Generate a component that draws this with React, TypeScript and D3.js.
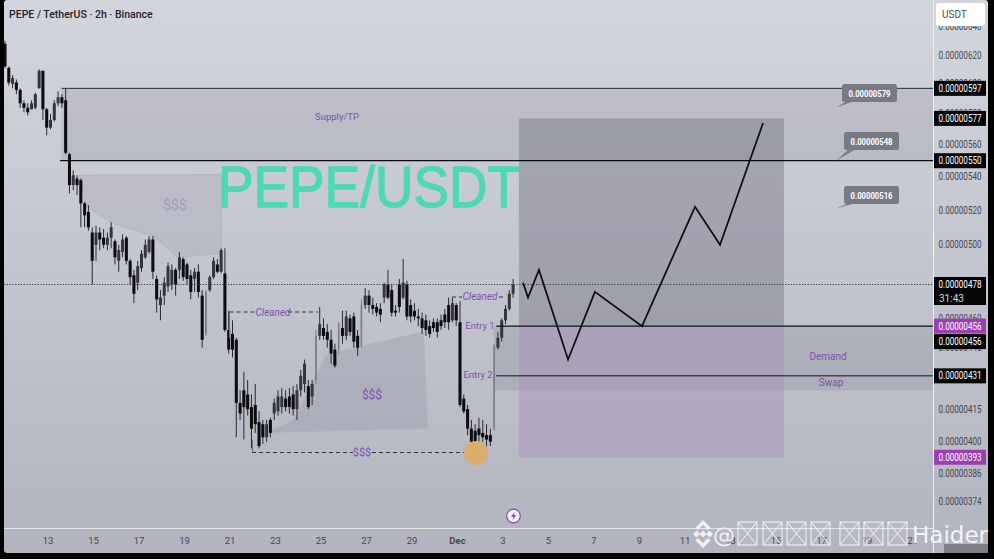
import React from "react";
import * as d3 from "d3";

// Prices in units of 0.00000001 USDT
const candleOpen = [628,611,600,601,596,587,584,583,584,597,609,583,571,576,587,591,589,554,535,539,538,524,519,507,500,507,504,500,504,502,491,496,504,491,483,479,487,493,496,503,481,467,472,477,478,486,486,492,489,483,481,485,472,452,475,482,489,485,484,454,452,449,418,424,422,416,417,409,408,402,410,413,414,416,420,421,422,415,424,427,426,421,429,451,455,453,449,444,444,455,451,460,461,451,446,467,472,467,466,465,471,478,475,464,478,471,478,467,464,461,460,459,456,458,458,459,462,467,459,467,458,420,415,406,405,406,404,403,403,406,445,450,459,465,473];
const candleClose = [612,601,604,596,587,584,581,587,593,609,583,571,576,587,591,587,555,535,541,535,524,517,510,491,507,503,500,504,510,493,497,503,491,482,473,488,495,500,503,485,470,471,479,488,486,478,493,482,481,474,485,474,449,474,482,491,485,497,454,444,444,418,413,416,415,406,408,398,402,408,404,418,421,421,416,416,415,424,431,437,416,427,451,457,451,449,442,436,457,451,461,453,448,445,467,472,467,465,463,462,478,471,463,463,466,479,461,461,461,460,455,454,452,455,453,456,458,458,468,459,417,414,406,400,396,403,402,401,400,446,450,459,465,473,478];
const candleHigh = [630,612,606,603,597,589,587,589,594,610,609,584,580,589,595,593,597,555,544,541,539,525,523,510,511,510,509,507,513,503,500,506,505,492,486,491,497,503,505,505,483,475,482,490,489,487,496,493,490,486,487,489,475,475,483,493,492,498,498,464,459,450,424,433,429,422,427,414,410,410,411,420,424,425,424,425,426,427,434,439,429,429,454,466,460,457,454,447,458,464,464,462,463,454,470,476,475,471,468,468,479,486,478,467,481,492,480,470,468,465,463,462,459,460,460,462,465,471,471,468,469,422,417,410,408,411,410,408,406,447,453,460,467,475,481];
const candleLow = [611,599,597,593,584,581,579,583,583,597,576,566,570,575,585,584,554,530,532,529,510,510,508,478,491,497,498,497,498,489,485,493,489,478,468,475,485,492,495,481,463,459,467,474,475,472,481,480,478,470,474,471,445,451,474,481,484,484,453,442,440,402,410,401,412,397,404,397,399,400,402,410,412,413,414,413,412,410,421,423,415,417,427,449,449,445,437,435,442,447,449,451,445,441,445,465,463,462,461,458,468,470,461,461,463,470,459,458,459,456,452,451,450,453,450,454,455,454,458,456,416,413,403,395,393,400,400,398,398,405,444,448,457,464,471];

const projectionDays = [33.88,34.1,34.58,35.86,37.04,39.11,41.44,42.54,44.43];
const projectionPrices = [479,471,486,439,474,456,522,500,574];

const plainTicks = [640,620,600,580,560,540,520,500,460,445,415,400,386,374];
const blackTags = [597,577,550,431];
const purpleTags = [456,393];
const callouts = [579,548,516];
const calloutTipPrices = [584,550,521];
const oddDaysNov = [13,15,17,19,21,23,25,27,29];
const dayLabelsDec = [3,5,7,9,11,13,15,17,19,21];
const DEC_OFFSET = 30;

const poly1Days = [14.37,20.65,20.6,18.7,17.6,15.75,14.7];
const poly1Prices = [541,541.5,495,493,505,513,522];
const poly2Days = [22.56,23.8,25.2,26.1,29.5,29.7];
const poly2Prices = [404,410,441,444,453,406];

const fmt = (v: number) => "0.00000" + v;

const x = d3.scaleLinear().domain([13, 33]).range([48, 503]);
const y = d3.scaleLog().domain([620, 374]).range([55, 501]);
const FIRST_DAY = 11.11;
const dayOf = (i: number) => FIRST_DAY + i / 6;
const AX = 933.5;
const purple = "#7b52ad";
const tick = "#44474f";
const mono = "Roboto, 'Liberation Sans', sans-serif";

function Price({ yy, v, fill }: { yy: number; v: number; fill: string }) {
  return (
    <text x={960} y={yy} textAnchor="middle" fontSize={10} fill={fill} textLength={43} lengthAdjust="spacingAndGlyphs">{fmt(v)}</text>
  );
}

function Tofu({ left }: { left: number }) {
  return (
    <g stroke="#fff" strokeWidth={1} fill="rgba(255,255,255,0.08)" opacity={0.9}>
      <rect x={left} y={522} width={19} height={23} />
      <path d={`M${left},522L${left + 19},545M${left + 19},522L${left},545`} />
    </g>
  );
}

export default function App() {
  const line = d3.line<number>().x((_, i) => x(projectionDays[i])).y((_, i) => y(projectionPrices[i]));
  const polyPath = (ds: number[], ps: number[]) =>
    d3.line<number>().x((d) => x(d)).y((_, i) => y(ps[i]))(ds) + "Z";
  const boxL = x(33.7);
  const boxR = x(45.35);
  return (
    <svg width={994} height={559} style={{ position: "fixed", left: 0, top: 0 }} fontFamily={mono}>
      <defs>
        <linearGradient id="bg" x1="0" y1="0" x2="0" y2="1">
          <stop offset="0" stopColor="#d3d5dc" />
          <stop offset="0.5" stopColor="#c3c5ce" />
          <stop offset="1" stopColor="#b2b4be" />
        </linearGradient>
        <filter id="soft"><feGaussianBlur stdDeviation="0.35" /></filter>
        <filter id="soft2"><feGaussianBlur stdDeviation="0.6" /></filter>
      </defs>
      <rect width={994} height={559} fill="#000" />
      <rect x={4} y={0} width={984} height={553} fill="url(#bg)" rx={3} />

      {/* zones */}
      <rect x={x(13.6)} y={y(597)} width={AX - x(13.6)} height={y(550) - y(597)} fill="#7b7e8c" opacity={0.2} />
      <rect x={x(32.6)} y={y(456)} width={AX - x(32.6)} height={y(424) - y(456)} fill="#7b7e8c" opacity={0.25} />
      <path d={polyPath(poly1Days, poly1Prices)} fill="#8a8d9a" fillOpacity={0.2} stroke="#b3b5bf" strokeWidth={1} />
      <path d={polyPath(poly2Days, poly2Prices)} fill="#8a8d9a" fillOpacity={0.28} stroke="#b3b5bf" strokeWidth={1} />
      <rect x={boxL} y={y(577)} width={boxR - boxL} height={y(456) - y(577)} fill="#6f717c" opacity={0.42} />
      <rect x={boxL} y={y(456)} width={boxR - boxL} height={y(393) - y(456)} fill="#a892bb" opacity={0.5} />

      {/* candles */}
      <g filter="url(#soft)">
        {candleOpen.map((o, i) => {
          const c = candleClose[i];
          const px = x(dayOf(i));
          const up = c > o;
          const tall = up && y(o) - y(c) > 25;
          const col = tall ? "#7c7e87" : up ? "#34363d" : "#08080b";
          return (
            <g key={i}>
              <line x1={px} x2={px} y1={y(candleHigh[i])} y2={y(candleLow[i])} stroke={tall ? "#7c7e87" : "#2a2b31"} strokeWidth={1} />
              <rect x={px - (tall ? 0.8 : 1.5)} width={tall ? 1.6 : 3} y={y(Math.max(o, c))} height={Math.max(1, Math.abs(y(o) - y(c)))} fill={col} />
            </g>
          );
        })}
      </g>

      {/* title */}
      <text x={218} y={207} fontFamily="'Liberation Sans', Arial, sans-serif" fontSize={58} fill="#4fd8b4" stroke="#4fd8b4" strokeWidth={1.3} textLength={302} lengthAdjust="spacingAndGlyphs">PEPE/USDT</text>

      {/* horizontal levels */}
      <line x1={x(13.6)} x2={AX} y1={y(597)} y2={y(597)} stroke="#2b2c33" strokeWidth={1} />
      <line x1={60} x2={AX} y1={y(550)} y2={y(550)} stroke="#0c0c10" strokeWidth={1.2} />
      <line x1={x(32.7)} x2={AX} y1={y(456)} y2={y(456)} stroke="#111" strokeWidth={1.1} />
      <line x1={x(32.7)} x2={AX} y1={y(431)} y2={y(431)} stroke="#111" strokeWidth={1} />
      <line x1={4} x2={AX} y1={y(478)} y2={y(478)} stroke="#33353c" strokeWidth={1} strokeDasharray="1.2 1.6" />

      {/* projection */}
      <path d={line(projectionDays) as string} fill="none" stroke="#0b0b0f" strokeWidth={1.7} strokeLinejoin="miter" filter="url(#soft)" />

      {/* dashed annotations */}
      <g stroke="#34353c" strokeWidth={1} strokeDasharray="4 3" fill="none">
        <path d="M229.5,312H257M288,312H318" />
        <path d="M452,297H462M499,297H505" />
        <path d="M252,452.5H353M372,452.5H473" />
      </g>
      <path d="M229.5,312V338M252.5,440V452" stroke="#6f717a" fill="none" />

      <circle cx={476} cy={453} r={12} fill="#dbae6e" filter="url(#soft2)" />

      {/* annotation labels */}
      <g fill={purple} textAnchor="middle" fontSize={10}>
        <text x={273} y={316} fontStyle="italic">Cleaned</text>
        <text x={480} y={300} fontStyle="italic">Cleaned</text>
        <text x={337} y={120} fontSize={9.5}>Supply/TP</text>
        <text x={480} y={329} fontSize={9.5}>Entry 1</text>
        <text x={478} y={378} fontSize={9.5}>Entry 2</text>
        <text x={828} y={360}>Demand</text>
        <text x={831} y={386}>Swap</text>
        <text x={362} y={456} fontSize={11}>$$$</text>
        <text x={372} y={399} fontSize={12}>$$$</text>
        <text x={175} y={210} fontSize={14} fill="#ab97c4">$$$</text>
      </g>

      {/* callouts */}
      {callouts.map((v, i) => {
        const bx = i === 0 ? 842 : 844;
        const by = [84, 132, 186][i];
        const tipY = y(calloutTipPrices[i]);
        return (
          <g key={v}>
            <path d={`M${bx + 5},${by + 17}L836,${tipY}L${bx + 12},${by + 17}Z`} fill="#7a7c86" />
            <rect x={bx} y={by} width={55} height={18} rx={2.5} fill="#777983" />
            <text x={bx + 27.5} y={by + 12.5} textAnchor="middle" fontSize={9} fontWeight={700} fill="#fff" textLength={42} lengthAdjust="spacingAndGlyphs">{fmt(v)}</text>
          </g>
        );
      })}

      {/* price axis */}
      <line x1={AX} x2={AX} y1={0} y2={553} stroke="#eceef2" strokeWidth={1} />
      <line x1={4} x2={AX} y1={528.5} y2={528.5} stroke="#e4e6eb" strokeWidth={1} />
      {plainTicks.map((v) => (
        <Price key={v} yy={y(v) + 3.5} v={v} fill={tick} />
      ))}
      {blackTags.map((v) => (
        <g key={v}>
          <rect x={934} y={y(v) - 7.5} width={52} height={15} fill="#050505" />
          <Price yy={y(v) + 3.5} v={v} fill="#fff" />
        </g>
      ))}
      <g>
        <rect x={934} y={y(456) + 8} width={52} height={15} fill="#050505" />
        <Price yy={y(456) + 19} v={456} fill="#fff" />
      </g>
      <g>
        <rect x={934} y={y(478) - 7.5} width={52} height={28} fill="#050505" />
        <Price yy={y(478) + 3.5} v={478} fill="#fff" />
        <text x={939} y={y(478) + 17} fontSize={10} fill="#d8d8d8">31:43</text>
      </g>
      {purpleTags.map((v) => (
        <g key={"p" + v}>
          <rect x={934} y={y(v) - 7.5} width={52} height={15} fill="#9c3fb0" />
          <Price yy={y(v) + 3.5} v={v} fill="#fff" />
        </g>
      ))}
      <rect x={936} y={3} width={49} height={23} rx={3} fill="#fff" />
      <text x={942} y={18} fontSize={10} fill="#4a4c55">USDT</text>

      {/* time axis */}
      <g fontSize={9.5} fill={tick} textAnchor="middle">
        {oddDaysNov.map((d) => (
          <text key={d} x={x(d)} y={544}>{d}</text>
        ))}
        <text x={x(DEC_OFFSET + 1)} y={544} fontWeight={700}>Dec</text>
        {dayLabelsDec.map((d) => (
          <text key={"dec" + d} x={x(DEC_OFFSET + d)} y={544}>{d}</text>
        ))}
      </g>

      {/* header */}
      <text x={9} y={18} fontSize={10.5} fontWeight={500} fill="#22242b">PEPE / TetherUS · 2h · Binance</text>

      {/* lightning marker */}
      <circle cx={513.5} cy={516} r={6.8} fill="#f4f2f8" stroke="#7b4fb0" strokeWidth={1.2} />
      <path d="M514.8,511.5L511,516.8H513.4L512.4,520.5L516.2,515H513.8Z" fill="#7b4fb0" />

      {/* watermark */}
      <g fill="#f2f3f6" opacity={0.95}>
        <path d="M693,534l3.5,-3.5l3.5,3.5l-3.5,3.5ZM706,534l3.5,-3.5l3.5,3.5l-3.5,3.5ZM703,520l7.5,7.5l-2.5,2.5l-5,-5l-5,5l-2.5,-2.5ZM703,548l-7.5,-7.5l2.5,-2.5l5,5l5,-5l2.5,2.5ZM703,530.5l3.5,3.5l-3.5,3.5l-3.5,-3.5Z" />
      </g>
      <text x={713} y={543} fontFamily="'DejaVu Sans', sans-serif" fontSize={22} fill="#f2f3f6">@</text>
      {[738, 763, 787, 811, 840, 864, 888].map((l) => <Tofu key={l} left={l} />)}
      <text x={912} y={543} fontFamily="'DejaVu Sans', sans-serif" fontSize={23} fill="#f2f3f6">Haider</text>
      <rect x={944} y={544} width={44} height={9} fill="#7e7f86" />
    </svg>
  );
}
